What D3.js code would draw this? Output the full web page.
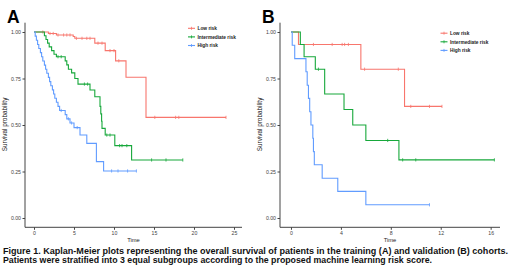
<!DOCTYPE html>
<html>
<head>
<meta charset="utf-8">
<script src="https://cdn.jsdelivr.net/npm/d3@7"></script>
<style>
  html,body{margin:0;padding:0;background:#fff;}
  svg{display:block;}
</style>
</head>
<body>
<svg id="chart" width="520" height="275"></svg>
<script>
// Kaplan-Meier step data: [time, survival] at each event
const groups = ['Low risk','Intermediate risk','High risk'];
const colors = ['#F8766D','#17a83b','#619CFF'];

// panel A (training)
const lowA = [[1.8,0.992],[2.8,0.984],[4.9,0.976],[5.1,0.966],[7.6,0.94],[8.9,0.90],[10.2,0.845],[11.5,0.757],[14.0,0.541]];
const lowA_cens = [1.1,2.0,2.4,3.0,3.7,4.1,4.5,5.3,6.0,6.6,7.0,8.0,8.5,9.5,10.0,10.6,15.1,17.7,18.1,24.0];
const midA = [[1.3,0.98],[1.5,0.96],[1.7,0.94],[1.9,0.92],[2.2,0.90],[2.5,0.88],[2.8,0.867],[3.9,0.845],[4.1,0.823],[4.3,0.80],[4.7,0.78],[5.1,0.75],[5.5,0.72],[7.0,0.688],[7.6,0.652],[8.25,0.60],[8.35,0.56],[8.45,0.52],[8.5,0.482],[8.9,0.446],[10.1,0.389],[12.2,0.312]];
const midA_cens = [3.0,3.4,6.3,6.7,9.1,9.5,10.7,11.0,11.6,14.7,16.5,18.6];
const highA = [[0.15,0.978],[0.3,0.956],[0.45,0.933],[0.6,0.911],[0.8,0.889],[0.95,0.867],[1.1,0.844],[1.3,0.822],[1.45,0.80],[1.6,0.778],[1.8,0.756],[1.95,0.733],[2.1,0.711],[2.3,0.689],[2.45,0.667],[2.6,0.644],[2.8,0.622],[3.0,0.60],[3.2,0.578],[3.9,0.556],[4.1,0.533],[4.5,0.511],[5.0,0.486],[5.75,0.446],[6.6,0.401],[7.8,0.303],[8.7,0.253]];
const highA_cens = [3.4,4.3,4.7,5.4,9.7,10.5,11.7,12.8];

// panel B (validation)
const lowB = [[0.6,0.933],[5.6,0.80],[9.1,0.60]];
const lowB_cens = [1.8,3.3,4.1,4.3,4.6,5.9,8.6,9.6,11.1,12.1];
const midB = [[0.75,0.933],[1.05,0.867],[1.95,0.80],[2.7,0.667],[4.25,0.583],[4.95,0.50],[6.0,0.417],[8.65,0.3125]];
const midB_cens = [2.2,7.75,8.95,10.0,16.3];
const highB = [[0.1,0.929],[0.3,0.857],[1.2,0.786],[1.3,0.714],[1.4,0.643],[1.5,0.571],[1.6,0.50],[1.75,0.429],[1.8,0.357],[1.87,0.286],[2.5,0.214],[3.75,0.143],[6.0,0.071]];
const highB_cens = [11.1];

const xTicksA = [0,5,10,15,20,25];
const xTicksB = [0,4,8,12,16];
const yTicks = [0,0.25,0.5,0.75,1];

const caption1 = 'Figure 1. Kaplan-Meier plots representing the overall survival of patients in the training (A) and validation (B) cohorts.';
const caption2 = 'Patients were stratified into 3 equal subgroups according to the proposed machine learning risk score.';

const FONT = "'Liberation Sans', Arial, sans-serif";
const svg = d3.select('#chart');

function survAt(steps, t){
  let s = 1;
  steps.forEach(d => { if(d[0] <= t) s = d[1]; });
  return s;
}

function panel(o){
  const g = svg.append('g');
  const x = d3.scaleLinear().domain(o.xDom).range([o.left, o.right]);
  const y = d3.scaleLinear().domain([-0.05,1.05]).range([227.3,22.7]);

  // axes
  g.append('g').attr('transform','translate(0,227.3)')
    .call(d3.axisBottom(x).tickValues(o.xTicks).tickSize(2.5).tickPadding(1.5).tickFormat(d3.format('d')))
    .call(a=>a.select('.domain').attr('d',`M${o.left},0H${o.right}`))
    .call(a=>a.selectAll('line,path').attr('stroke','#444').attr('stroke-width',1))
    .call(a=>a.selectAll('text').attr('fill','#444').style('font-family',FONT).style('font-size','5.2px'));
  g.append('g').attr('transform',`translate(${o.left},0)`)
    .call(d3.axisLeft(y).tickValues(yTicks).tickSize(2.5).tickPadding(1.5).tickFormat(d3.format('.2f')))
    .call(a=>a.select('.domain').attr('d','M0,227.3V22.7'))
    .call(a=>a.selectAll('line,path').attr('stroke','#444').attr('stroke-width',1))
    .call(a=>a.selectAll('text').attr('fill','#444').attr('dy','0.35em').style('font-family',FONT).style('font-size','5.2px'));

  // curves
  o.series.forEach((s,i) => {
    const pts = [[0,1]].concat(s.steps);
    const endT = d3.max([s.end, pts[pts.length-1][0]]);
    const line = d3.line().curve(d3.curveStepAfter).x(d=>x(d[0])).y(d=>y(d[1]));
    g.append('path').datum(pts.concat([[endT, pts[pts.length-1][1]]]))
      .attr('d',line).attr('fill','none').attr('stroke',colors[i]).attr('stroke-width',1.1);
    g.selectAll(null).data(s.cens).join('line')
      .attr('x1',d=>x(d)).attr('x2',d=>x(d))
      .attr('y1',d=>y(survAt(s.steps,d))-1.6).attr('y2',d=>y(survAt(s.steps,d))+1.6)
      .attr('stroke',colors[i]).attr('stroke-width',0.8);
  });

  // legend
  groups.forEach((name,i) => {
    const ly = o.legY + i*8.6;
    g.append('line').attr('x1',o.legX).attr('x2',o.legX+7).attr('y1',ly).attr('y2',ly)
      .attr('stroke',colors[i]).attr('stroke-width',1.1);
    g.append('line').attr('x1',o.legX+3.5).attr('x2',o.legX+3.5).attr('y1',ly-1.5).attr('y2',ly+1.5)
      .attr('stroke',colors[i]).attr('stroke-width',0.8);
    g.append('text').attr('x',o.legX+9.5).attr('y',ly+1.7).text(name)
      .style('font-family',FONT).style('font-size','4.8px').style('font-weight','bold').attr('fill','#222');
  });

  // titles
  g.append('text').attr('x',(o.left+o.right)/2).attr('y',242).attr('text-anchor','middle').text('Time')
    .style('font-family',FONT).style('font-size','5.8px').attr('fill','#222');
  g.append('text').attr('transform',`translate(${o.left-18},124.5) rotate(-90)`).attr('text-anchor','middle')
    .text('Survival probability').style('font-family',FONT).style('font-size','6.4px').attr('fill','#222');
  g.append('text').attr('x',o.left-18).attr('y',22.7).text(o.letter)
    .style('font-family',FONT).style('font-size','17.5px').style('font-weight','bold').attr('fill','#000');
}

panel({letter:'A', xDom:[-1.125,26], left:25, right:242, xTicks:xTicksA, legX:188, legY:28.3,
  series:[{steps:lowA,cens:lowA_cens,end:24},{steps:midA,cens:midA_cens,end:18.6},{steps:highA,cens:highA_cens,end:12.8}]});
panel({letter:'B', xDom:[-0.88,16.75], left:280, right:500, xTicks:xTicksB, legX:440.5, legY:33.2,
  series:[{steps:lowB,cens:lowB_cens,end:12.1},{steps:midB,cens:midB_cens,end:16.3},{steps:highB,cens:highB_cens,end:11.1}]});

// caption
svg.append('text').attr('x',3).attr('y',254.3).text(caption1)
  .attr('textLength',505).attr('lengthAdjust','spacingAndGlyphs')
  .style('font-family',FONT).style('font-size','8.3px').style('font-weight','bold').attr('fill','#111');
svg.append('text').attr('x',3).attr('y',263).text(caption2)
  .attr('textLength',429).attr('lengthAdjust','spacingAndGlyphs')
  .style('font-family',FONT).style('font-size','8.3px').style('font-weight','bold').attr('fill','#111');
</script>
</body>
</html>
